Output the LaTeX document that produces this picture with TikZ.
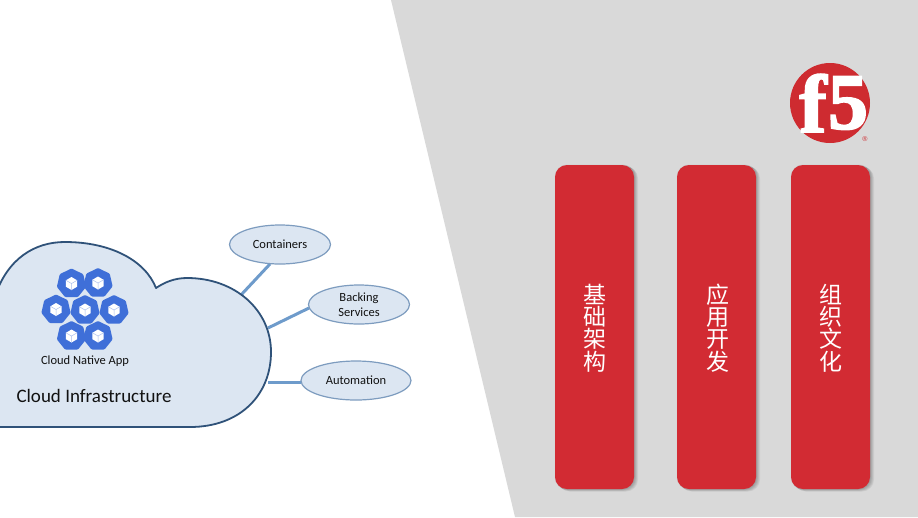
\documentclass[tikz,border=0pt]{standalone}
\usepackage{fontspec}
\setmainfont{Carlito}
\newfontfamily\cjkfont{Noto Sans CJK SC}
\newfontfamily\logofont[BoldFont={Liberation Serif Bold},BoldFeatures={FakeBold=2.2}]{Liberation Serif}
\newfontfamily\regfont{Liberation Sans}
\usetikzlibrary{shapes.geometric,calc}
\definecolor{bggray}{HTML}{D9D9D9}
\definecolor{brandred}{HTML}{D22B33}
\definecolor{logored}{HTML}{CE2B30}
\definecolor{cloudfill}{HTML}{DCE6F2}
\definecolor{cloudline}{HTML}{2F5279}
\definecolor{linkblue}{HTML}{6E9BCB}
\definecolor{ovalline}{HTML}{7D9CBF}
\definecolor{hexblue}{HTML}{3F6FD8}
\definecolor{inktext}{HTML}{111111}
\tikzset{
  x=1pt,y=-1pt,
  oval/.style={ellipse,draw=ovalline,line width=1.2pt,fill=cloudfill,inner sep=0pt,
    minimum width=#1,minimum height=39pt,align=center,text=inktext,font=\fontsize{12.5}{15.5}\selectfont},
  link/.style={draw=linkblue,line width=3pt},
  hept/.style={regular polygon,regular polygon sides=7,fill=hexblue,minimum size=30pt,inner sep=0pt,rounded corners=1pt},
  barbox/.style={rounded corners=12pt,fill=brandred},
  barshade/.style={rounded corners=12pt,fill=black,fill opacity=.06},
  bartext/.style={text=white,align=center,font=\cjkfont\fontsize{23}{22.2}\selectfont,inner sep=0pt},
}
\newcommand{\cubeat}[3]{%
  \node[hept] (#1) at (#2,#3) {};
  \fill[white] (#2,#3-6.5) -- (#2+5.6,#3-3.2) -- (#2+5.6,#3+3.2) -- (#2,#3+6.5) -- (#2-5.6,#3+3.2) -- (#2-5.6,#3-3.2) -- cycle;
  \draw[hexblue!45,line width=.5pt] (#2-5.6,#3-3.2) -- (#2,#3) -- (#2+5.6,#3-3.2) (#2,#3) -- (#2,#3+6.5);
}
\newcommand{\barat}[5]{%
  \foreach \d in {1,2,3,4,5}{\fill[barshade] (#1+\d*.8-1,165+\d*.5-1) rectangle (#2+\d*.8,489+\d*.5);}
  \path[barbox] (#1,165) rectangle (#2,489);
  \node[bartext] (#3) at (#4,328) {#5};
}
\begin{document}
\begin{tikzpicture}
\useasboundingbox (0,0) rectangle (918,517);
\clip (0,0) rectangle (918,517);
\fill[white] (0,0) rectangle (918,517);
\fill[bggray] (391,0) -- (918,0) -- (918,517) -- (515,517) -- cycle;

% connectors and ovals
\coordinate (c1) at (241,295);
\coordinate (c2) at (268,328);
\coordinate (c3) at (268,382);
\coordinate (e1) at (270,264);
\coordinate (e2) at (309,308);
\coordinate (e3) at (301,382);
\draw[link] (c1) -- (e1);
\draw[link] (c2) -- (e2);
\draw[link] (c3) -- (e3);
\node[oval=101pt] (containers) at (280,244.5) {Containers};
\node[oval=101pt] (backing) at (359,304.5) {Backing\\Services};
\node[oval=110pt] (automation) at (356,380.5) {Automation};

% cloud
\draw[fill=cloudfill,draw=cloudline,line width=1.8pt,line join=round]
  (-5,427) -- (190,427)
  .. controls (240,427) and (271,395) .. (271,352)
  .. controls (271,310) and (235,278) .. (187,278)
  .. controls (175,278) and (165,282) .. (156,288)
  .. controls (145,260) and (110,242) .. (65,242)
  .. controls (35,242) and (8,258) .. (-5,296) -- cycle;

\cubeat{h1}{71.5}{283.5}
\cubeat{h2}{98}{283}
\cubeat{h3}{56}{309.5}
\cubeat{h4}{85}{310}
\cubeat{h5}{114}{310}
\cubeat{h6}{71.5}{336}
\cubeat{h7}{98}{336}
\node[text=inktext,font=\fontsize{12.5}{14}\selectfont,inner sep=0pt] (app) at (85,361) {Cloud Native App};
\node[text=inktext,font=\fontsize{19}{22}\selectfont,inner sep=0pt] (infra) at (94,396) {Cloud Infrastructure};

% bars
\barat{555}{634}{b1}{595}{基\\础\\架\\构}
\barat{677}{756}{b2}{717.5}{应\\用\\开\\发}
\barat{791}{870}{b3}{831}{组\\织\\文\\化}

% logo
\node[circle,fill=logored,minimum size=80pt,inner sep=0pt] (logo) at (830,103) {};
\node[text=white,inner sep=0pt,font=\logofont\bfseries\fontsize{82}{82}\selectfont] (lf) at (813,103) {f};
\node[text=white,inner sep=0pt,font=\logofont\bfseries\fontsize{80}{80}\selectfont] (lfive) at (848,103) {5};
\node[text=logored,inner sep=0pt,font=\regfont\fontsize{7}{7}\selectfont] (reg) at (865,139) {®};
\end{tikzpicture}
\end{document}
